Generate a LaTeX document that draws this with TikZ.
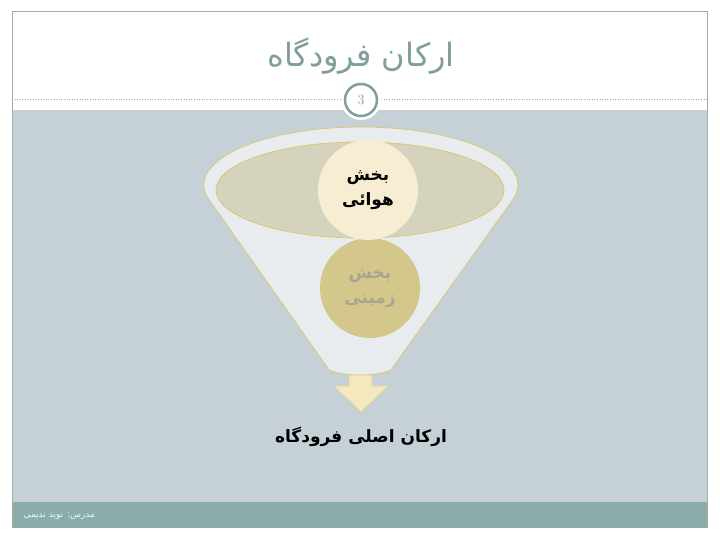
\documentclass[tikz,border=0pt]{standalone}
\usepackage{fontspec}
\usepackage{tikz}
\TeXXeTstate=1
\newfontfamily\arabicfont[Script=Arabic]{DejaVu Sans}
\definecolor{slidegray}{HTML}{C6D1D7}
\definecolor{footgreen}{HTML}{8AADAA}
\definecolor{titlegreen}{HTML}{7F9E9C}
\definecolor{framegray}{HTML}{A3ABAB}
\definecolor{funnelfill}{HTML}{E8ECEE}
\definecolor{funneledge}{HTML}{D8C874}
\definecolor{rimfill}{HTML}{D5D2BE}
\definecolor{airfill}{HTML}{F6EDD2}
\definecolor{groundfill}{HTML}{D4C78B}
\definecolor{groundtext}{HTML}{A8A58F}
\definecolor{arrowfill}{HTML}{F4E8BF}

\begin{document}
\begin{tikzpicture}[x=1pt,y=1pt]
\tikzset{part/.style = {shape=circle,draw=none,minimum size=100pt,inner sep=0pt,align=center,font=\arabicfont\bfseries\fontsize{17}{25}\selectfont}}
\tikzset{pagenum/.style = {shape=circle,draw=titlegreen,line width=2.5pt,fill=white,minimum size=32pt,inner sep=0pt,text=titlegreen}}
\useasboundingbox (0,0) rectangle (720,540);
\fill[white] (0,0) rectangle (720,540);

% slide background
\fill[slidegray] (12,38) rectangle (707,430);
\fill[footgreen] (12,12) rectangle (707,38);
\draw[framegray,line width=1pt] (12,12) -- (12,528) -- (707,528) -- (707,12);
\draw[framegray,dotted,line width=0.6pt] (12,441) -- (707,441);

% title
\node[text=titlegreen,font=\arabicfont\fontsize{32}{36}\selectfont] (title) at (361,484) {\beginR ارکان فرودگاه\endR};
\fill[white] (361,440) circle (20);
\node[pagenum,font=\fontsize{14}{16}\selectfont] (num) at (361,440) {3};

% funnel
\draw[funneledge,fill=funnelfill,line width=0.8pt]
  (209.3,340) arc[start angle=195,end angle=-15,x radius=157,y radius=58]
  -- (393,173) arc[start angle=0,end angle=-180,x radius=33,y radius=8] -- cycle;
\draw[funneledge,fill=rimfill,line width=0.8pt] (360,350) ellipse[x radius=144,y radius=48];

% vertices
\node[part,fill=groundfill,text=groundtext] (ground) at (370,252) {\beginR بخش\endR\\\beginR زمینی\endR};
\node[part,fill=airfill,text=black] (air) at (368,350) {\beginR بخش\endR\\\beginR هوائی\endR};

% output arrow
\draw[funneledge!80!white,fill=arrowfill,line width=0.6pt]
  (349,165) -- (372,165) -- (372,154) -- (388,154) -- (361,128) -- (334,154) -- (349,154) -- cycle;
\node[font=\arabicfont\bfseries\fontsize{17}{20}\selectfont] (result) at (361,103) {\beginR ارکان اصلی فرودگاه\endR};

% footer
\node[anchor=west,text=white!90!footgreen,font=\arabicfont\fontsize{9}{10}\selectfont] (teacher) at (20,24) {\beginR مدرس: نوید ندیمی\endR};
\end{tikzpicture}
\end{document}
